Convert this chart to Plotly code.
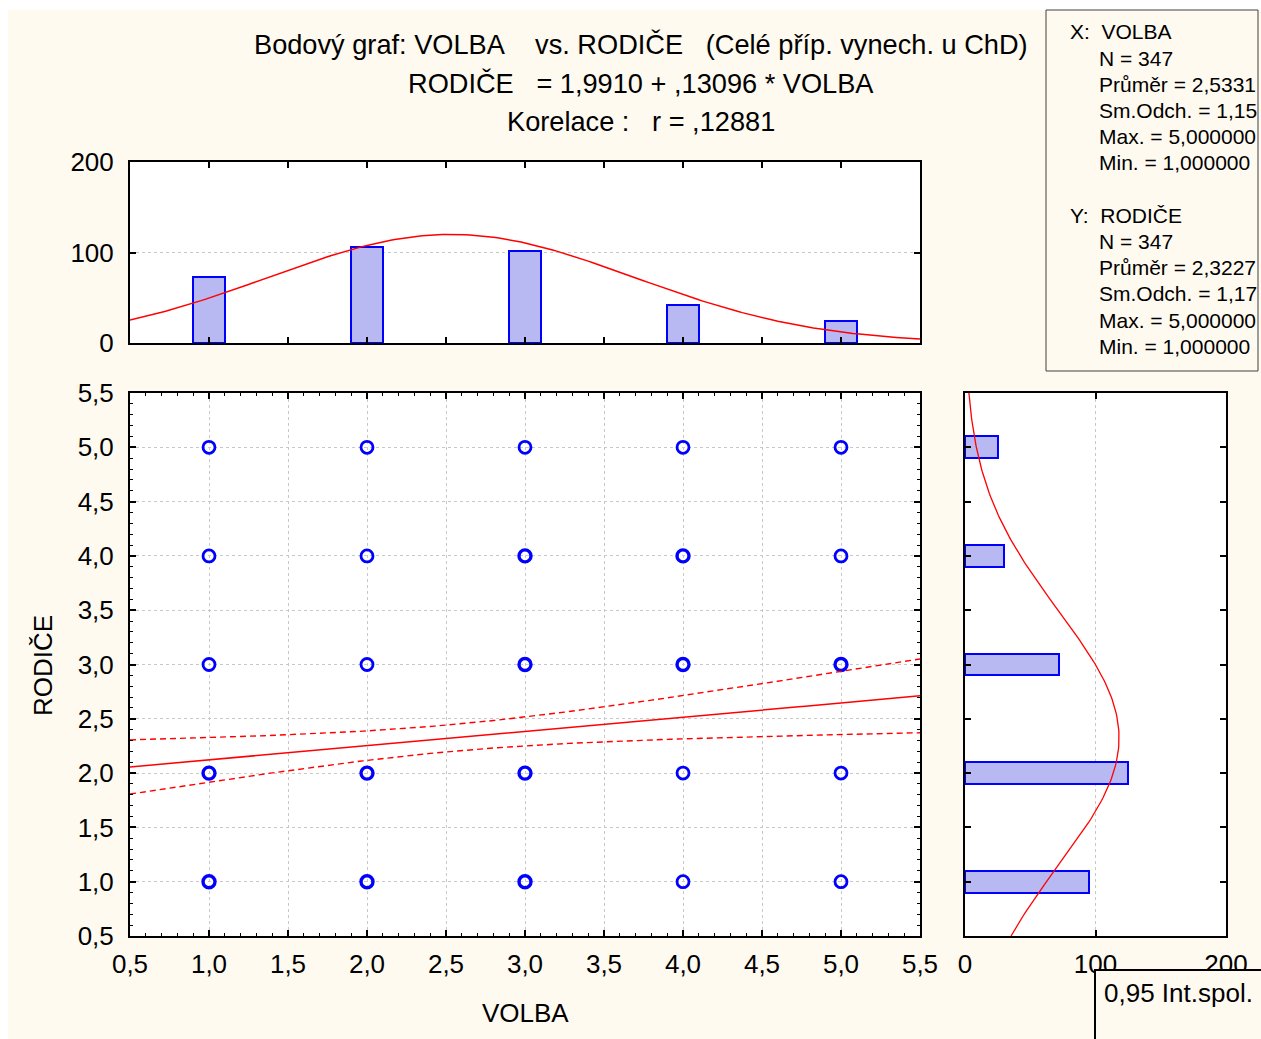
import numpy as np
import plotly.graph_objects as go

# ---------------- data ----------------
categories = [1, 2, 3, 4, 5]
volba_counts = [73, 106, 102, 42, 24]      # histogram of VOLBA (top)
rodice_counts = [95, 125, 72, 30, 25]      # histogram of RODIČE (right)

scatter_x = [1, 1, 1, 1, 1, 2, 2, 2, 2, 2, 3, 3, 3, 3, 3, 4, 4, 4, 4, 4, 5, 5, 5, 5, 5]
scatter_y = [5, 4, 3, 2, 1, 5, 4, 3, 2, 1, 5, 4, 3, 2, 1, 5, 4, 3, 2, 1, 5, 4, 3, 2, 1]
scatter_multi = [0, 0, 0, 1, 1, 0, 0, 0, 1, 1, 0, 1, 1, 1, 1, 0, 1, 1, 0, 0, 0, 0, 1, 0, 0]

n_obs = 347
intercept = 1.9910
slope = 0.13096
r_corr = 0.12881
mean_x, sd_x = 2.5331, 1.1536
mean_y, sd_y = 2.3227, 1.1727
t_crit = 1.967

main_ticks = [0.5, 1.0, 1.5, 2.0, 2.5, 3.0, 3.5, 4.0, 4.5, 5.0, 5.5]
main_ticktext = ["0,5", "1,0", "1,5", "2,0", "2,5", "3,0", "3,5", "4,0", "4,5", "5,0", "5,5"]
hist_ticks = [0, 100, 200]
hist_ticktext = ["0", "100", "200"]

title_lines = [
    "Bodový graf: VOLBA\u00a0\u00a0\u00a0\u00a0vs. RODIČE\u00a0\u00a0\u00a0(Celé příp. vynech. u ChD)",
    "RODIČE\u00a0\u00a0\u00a0= 1,9910 + ,13096 * VOLBA",
    "Korelace :\u00a0\u00a0\u00a0r = ,12881",
]
stats_lines = [
    ("X:\u00a0\u00a0VOLBA", 0), ("N = 347", 1), ("Průměr = 2,5331", 1), ("Sm.Odch. = 1,15", 1),
    ("Max. = 5,000000", 1), ("Min. = 1,000000", 1),
    ("Y:\u00a0\u00a0RODIČE", 0), ("N = 347", 1), ("Průměr = 2,3227", 1), ("Sm.Odch. = 1,17", 1),
    ("Max. = 5,000000", 1), ("Min. = 1,000000", 1),
]
x_title = "VOLBA"
y_title = "RODIČE"
legend_text = "0,95 Int.spol."

# ---------------- helpers ----------------
W, H = 1261, 1039
def px(x):
    return x / W
def py(y):
    return 1 - y / H

FONT = "Liberation Sans, Arial, sans-serif"
CREAM = "#FFFAF0"
BLUE = "#0000FF"
BARFILL = "#B8B8F2"
RED = "#FF0000"
GRID = "#C8C8C8"
FS = 26

# fitted curves
gx = np.linspace(0.5, 5.5, 201)
norm_x = n_obs * np.exp(-0.5 * ((gx - mean_x) / sd_x) ** 2) / (sd_x * np.sqrt(2 * np.pi))
norm_y = n_obs * np.exp(-0.5 * ((gx - mean_y) / sd_y) ** 2) / (sd_y * np.sqrt(2 * np.pi))
reg = intercept + slope * gx
s_res = sd_y * np.sqrt((1 - r_corr ** 2) * (n_obs - 1) / (n_obs - 2))
sxx = (n_obs - 1) * sd_x ** 2
half = t_crit * s_res * np.sqrt(1 / n_obs + (gx - mean_x) ** 2 / sxx)

fig = go.Figure()

# main scatter
fig.add_trace(go.Scatter(
    x=scatter_x, y=scatter_y, mode="markers",
    marker=dict(symbol="circle-open", size=12, color=BLUE,
                line=dict(color=BLUE, width=[3.4 if m else 2.8 for m in scatter_multi])),
    xaxis="x", yaxis="y", showlegend=False, hoverinfo="x+y"))
fig.add_trace(go.Scatter(x=gx, y=reg, mode="lines", line=dict(color=RED, width=1.5),
                         xaxis="x", yaxis="y", showlegend=False))
fig.add_trace(go.Scatter(x=gx, y=reg + half, mode="lines", line=dict(color=RED, width=1.4, dash="6px,4px"),
                         xaxis="x", yaxis="y", showlegend=False))
fig.add_trace(go.Scatter(x=gx, y=reg - half, mode="lines", line=dict(color=RED, width=1.4, dash="6px,4px"),
                         xaxis="x", yaxis="y", showlegend=False))

# top histogram
fig.add_trace(go.Bar(x=categories, y=volba_counts, width=0.2,
                     marker=dict(color=BARFILL, line=dict(color=BLUE, width=2)),
                     xaxis="x2", yaxis="y2", showlegend=False))
fig.add_trace(go.Scatter(x=gx, y=norm_x, mode="lines", line=dict(color=RED, width=1.5),
                         xaxis="x2", yaxis="y2", showlegend=False))

# right histogram
fig.add_trace(go.Bar(y=categories, x=rodice_counts, width=0.2, orientation="h",
                     marker=dict(color=BARFILL, line=dict(color=BLUE, width=2)),
                     xaxis="x3", yaxis="y3", showlegend=False))
fig.add_trace(go.Scatter(y=gx, x=norm_y, mode="lines", line=dict(color=RED, width=1.3),
                         xaxis="x3", yaxis="y3", showlegend=False))

tickfont = dict(family=FONT, size=FS, color="black")
common = dict(showline=True, linecolor="black", linewidth=2, mirror="allticks",
              ticks="inside", ticklen=6, tickwidth=1.5, tickcolor="black",
              zeroline=False, fixedrange=True, automargin=False)
minor = dict(dtick=0.1, tick0=0.5, ticks="inside", ticklen=3, tickcolor="black", tickwidth=1, showgrid=False)
grid = dict(showgrid=True, gridcolor=GRID, griddash="dot", gridwidth=1)

fig.update_layout(
    width=W, height=H,
    margin=dict(l=0, r=0, t=0, b=0, pad=0, autoexpand=False),
    paper_bgcolor=CREAM, plot_bgcolor="white",
    font=dict(family=FONT, size=FS, color="black"),
    bargap=0,
    xaxis=dict(domain=[px(130), px(920)], anchor="y", range=[0.5, 5.5],
               tickvals=main_ticks, ticktext=main_ticktext, tickfont=tickfont,
               minor=minor, ticklabelstandoff=4, **grid, **common),
    yaxis=dict(domain=[py(936), py(393)], anchor="x", range=[0.5, 5.5],
               tickvals=main_ticks, ticktext=main_ticktext, tickfont=tickfont,
               minor=minor, ticklabelstandoff=9, **grid, **common),
    xaxis2=dict(domain=[px(130), px(920)], anchor="y2", range=[0.5, 5.5],
                tickvals=main_ticks, showticklabels=False, showgrid=False, **common),
    yaxis2=dict(domain=[py(343), py(162)], anchor="x2", range=[0, 200],
                tickvals=hist_ticks, ticktext=hist_ticktext, tickfont=tickfont,
                ticklabelstandoff=9, **grid, **common),
    xaxis3=dict(domain=[px(965), px(1226)], anchor="y3", range=[0, 200],
                tickvals=hist_ticks, ticktext=hist_ticktext, tickfont=tickfont,
                ticklabelstandoff=4, **grid, **common),
    yaxis3=dict(domain=[py(936), py(393)], anchor="x3", range=[0.5, 5.5],
                tickvals=main_ticks, showticklabels=False, showgrid=False, **common),
)

shapes = [
    # white strips outside the cream page
    dict(type="rect", xref="paper", yref="paper", x0=0, x1=px(8), y0=0, y1=1,
         fillcolor="white", line=dict(width=0), layer="below"),
    dict(type="rect", xref="paper", yref="paper", x0=0, x1=1, y0=py(10), y1=1,
         fillcolor="white", line=dict(width=0), layer="below"),
    # statistics box
    dict(type="rect", xref="paper", yref="paper", x0=px(1046), x1=px(1258), y0=py(371), y1=py(10),
         line=dict(color="#404040", width=1), fillcolor="rgba(0,0,0,0)", layer="above"),
    # legend box
    dict(type="rect", xref="paper", yref="paper", x0=px(1095), x1=px(1275), y0=py(1060), y1=py(970),
         line=dict(color="black", width=2), fillcolor=CREAM, layer="above"),
]
fig.update_layout(shapes=shapes)

annotations = []
for i, t in enumerate(title_lines):
    annotations.append(dict(text=t, xref="paper", yref="paper", x=px(641), y=py(45 + 38 * i),
                            xanchor="center", yanchor="middle", showarrow=False,
                            font=dict(family=FONT, size=27.2, color="black")))
for i, (t, ind) in enumerate(stats_lines):
    yy = 32 + 26.2 * i + (26 if i >= 6 else 0)
    annotations.append(dict(text=t, xref="paper", yref="paper", x=px(1068 + 29 * ind), y=py(yy),
                            xanchor="left", yanchor="middle", showarrow=False,
                            font=dict(family=FONT, size=21, color="black")))
annotations.append(dict(text=legend_text, xref="paper", yref="paper", x=px(1102), y=py(993),
                        xanchor="left", yanchor="middle", showarrow=False,
                        font=dict(family=FONT, size=FS, color="black")))
annotations.append(dict(text=x_title, xref="paper", yref="paper", x=px(525), y=py(1013),
                        xanchor="center", yanchor="middle", showarrow=False,
                        font=dict(family=FONT, size=FS, color="black")))
annotations.append(dict(text=y_title, xref="paper", yref="paper", x=px(43), y=py(665),
                        xanchor="center", yanchor="middle", showarrow=False, textangle=-90,
                        font=dict(family=FONT, size=FS, color="black")))
fig.update_layout(annotations=annotations)

fig.write_html("out.html", config={"displayModeBar": False},
               post_script="document.body.style.margin='0';document.body.style.overflow='hidden';")
